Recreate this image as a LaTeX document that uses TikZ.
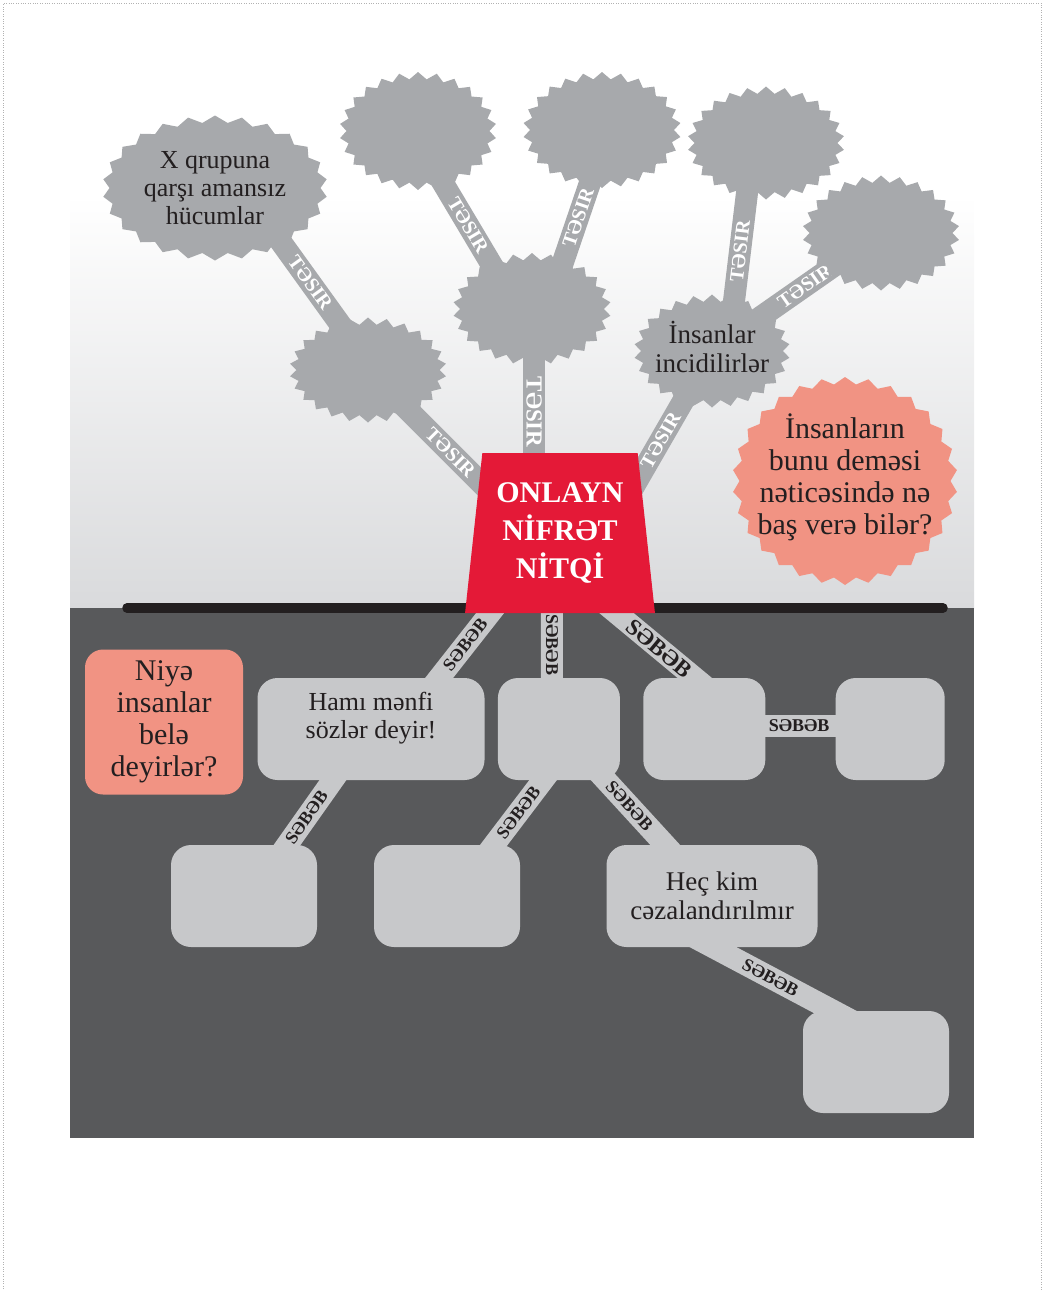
\documentclass[tikz,border=0pt]{standalone}
\usepackage{fontspec}
\setmainfont{Liberation Serif}
\usetikzlibrary{positioning}
\usetikzlibrary{calc}
\usetikzlibrary{shapes.geometric}
\usetikzlibrary{shapes.symbols}

\definecolor{burstgray}{HTML}{A7A9AC}
\definecolor{boxgray}{HTML}{C7C8CA}
\definecolor{darkpanel}{HTML}{58595B}
\definecolor{panelgray}{HTML}{D9DADC}
\definecolor{hatered}{HTML}{E41937}
\definecolor{salmon}{HTML}{F19383}
\definecolor{ink}{HTML}{231F20}

\pgfdeclarelayer{panel}
\pgfdeclarelayer{band}
\pgfsetlayers{panel,band,main}

\begin{document}
\begin{tikzpicture}[x=1pt, y=-1pt,
        burst/.style={starburst, random starburst=0, starburst points=26, starburst point height=7pt, fill=burstgray, inner sep=0pt},
        bursttext/.style n args={2}{align=center, text=ink, font=\fontsize{#1}{#2}\selectfont},
        causebox/.style={rectangle, rounded corners=20pt, fill=boxgray, inner sep=0pt, align=center, text=ink, minimum height=102pt, font=\fontsize{26}{28}\selectfont},
        tesir/.style={draw=burstgray, line width=22pt},
        sebeb/.style={draw=boxgray, line width=22pt},
        tlabel/.style={sloped, inner sep=0pt, text=white, font=\bfseries\fontsize{20}{20}\selectfont},
        slabel/.style={sloped, inner sep=0pt, text=ink, font=\bfseries\fontsize{18}{18}\selectfont}]
        \useasboundingbox (0,0) rectangle (1044,1291);
        \draw[black!30, dotted] (3,1291) -- (3,3) -- (1041,3) -- (1041,1291);
        \begin{pgfonlayer}{panel}
            \fill[top color=white, bottom color=panelgray] (70,195) rectangle (974,608);
            \fill[darkpanel] (70,608) rectangle (974,1138);
        \end{pgfonlayer}
        \draw[ink, line width=9.5pt, line cap=round] (127,608) -- (943,608);

        \node [trapezium, trapezium angle=82, trapezium stretches=true, minimum width=190pt, minimum height=160pt, inner sep=0pt, fill=hatered, text=white, align=center, font=\bfseries\fontsize{30}{38}\selectfont] (hate) at (560,533) {ONLAYN\\NİFRƏT\\NİTQİ};

        \node [burst, minimum width=225pt, minimum height=145pt, label={[bursttext={26}{28}]center:X qrupuna\\qarşı amansız\\hücumlar}] (xgroup) at (215,188) {};
        \node [burst, minimum width=157pt, minimum height=118pt] (topA) at (418,131) {};
        \node [burst, minimum width=158pt, minimum height=116pt] (topB) at (602,130) {};
        \node [burst, minimum width=157pt, minimum height=113pt] (topC) at (766,143) {};
        \node [burst, minimum width=157pt, minimum height=115pt] (topD) at (881,233) {};
        \node [burst, minimum width=157pt, minimum height=105pt] (midE) at (368,370) {};
        \node [burst, minimum width=158pt, minimum height=112pt] (midF) at (532,309) {};
        \node [burst, minimum width=156pt, minimum height=113pt, label={[bursttext={27}{29}, yshift=4pt]center:İnsanlar\\incidilirlər}] (hurt) at (712,351) {};
        \node [burst, starburst points=30, fill=salmon, minimum width=225pt, minimum height=208pt, label={[bursttext={30}{32}, yshift=4pt]center:İnsanların\\bunu deməsi\\nəticəsində nə\\baş verə bilər?}] (result) at (845,481) {};

        \node [causebox, fill=salmon, rounded corners=18pt, minimum width=158pt, minimum height=145pt, font=\fontsize{30}{32}\selectfont] (why) at (164,722) {Niyə\\insanlar\\belə\\deyirlər?};
        \node [causebox, minimum width=227pt, label={[align=center, text=ink, font=\fontsize{26}{28}\selectfont, yshift=11pt]center:Hamı mənfi\\sözlər deyir!}] (hami) at (371,729) {};
        \node [causebox, minimum width=122pt, right=13pt of hami] (mid) {};
        \node [causebox, minimum width=122pt, right=23pt of mid] (rightbox) {};
        \node [causebox, minimum width=109pt, right=70pt of rightbox] (farbox) {};
        \node [causebox, minimum width=146pt] (lowA) at (244,896) {};
        \node [causebox, minimum width=146pt] (lowB) at (447,896) {};
        \node [causebox, minimum width=211pt, font=\fontsize{27}{29}\selectfont] (nopunish) at (712,896) {Heç kim\\cəzalandırılmır};
        \node [causebox, minimum width=146pt] (lowC) at (876,1062) {};

        \begin{pgfonlayer}{band}
            \draw[tesir] ($(xgroup)+(27,0)$) -- node[tlabel, pos=.53] {TƏSIR} ($(midE)+(3,-3)$);
            \draw[tesir] (midE.center) -- node[tlabel, pos=.43] {TƏSIR} ($(hate)+(0,29)$);
            \draw[tesir] ($(midF)+(2,0)$) -- node[tlabel, allow upside down, pos=.46, font=\bfseries\fontsize{23}{23}\selectfont] {TƏSIR} ($(hate)+(-26,0)$);
            \draw[tesir] ($(midF)+(-14,0)$) -- node[tlabel, pos=.47] {TƏSIR} ($(topA)+(-6,0)$);
            \draw[tesir] ($(midF)+(15,0)$) -- node[tlabel, pos=.51] {TƏSIR} ($(topB)+(6,0)$);
            \draw[tesir] ($(hate)+(47,0)$) -- node[tlabel, pos=.51] {TƏSIR} (hurt.center);
            \draw[tesir] ($(hurt)+(16,0)$) -- node[tlabel, pos=.48] {TƏSIR} ($(topC)+(-13,0)$);
            \draw[tesir] (hurt.center) -- node[tlabel, pos=.55] {TƏSIR} (topD.center);
            \draw[sebeb] ($(hate)+(-7,0)$) -- node[slabel, pos=.57] {SƏBƏB} ($(hami)+(28,0)$);
            \draw[sebeb] ($(hate)+(-8,0)$) -- node[slabel, allow upside down, pos=.57] {SƏBƏB} ($(mid)+(-7,0)$);
            \draw[sebeb] ($(hate)+(-40,0)$) -- node[slabel, pos=.59, font=\bfseries\fontsize{23}{23}\selectfont] {SƏBƏB} ($(rightbox)+(52,0)$);
            \draw[sebeb] ($(rightbox)+(0,-3)$) -- node[slabel, pos=.51] {SƏBƏB} ($(farbox)+(0,-3)$);
            \draw[sebeb] ($(hami)+(-2,0)$) -- node[slabel, pos=.53] {SƏBƏB} ($(lowA)+(7,0)$);
            \draw[sebeb] ($(mid)+(23,0)$) -- node[slabel, pos=.5] {SƏBƏB} ($(lowB)+(8,0)$);
            \draw[sebeb] (mid.center) -- node[slabel, pos=.46] {SƏBƏB} (nopunish.center);
            \draw[sebeb] ($(nopunish)+(-50,24)$) -- node[slabel, pos=.48] {SƏBƏB} ($(lowC)+(12,-22)$);
        \end{pgfonlayer}
    \end{tikzpicture}
\end{document}
